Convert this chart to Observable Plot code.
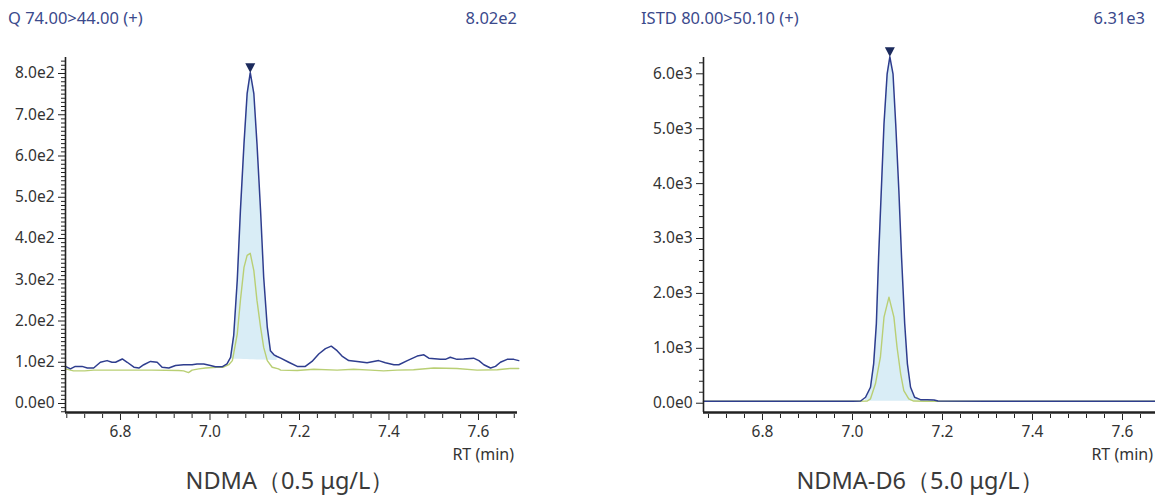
<!DOCTYPE html>
<html><head><meta charset="utf-8">
<script src="https://cdn.jsdelivr.net/npm/d3@7"></script>
<script src="https://cdn.jsdelivr.net/npm/@observablehq/plot@0.6"></script>
<style>
body{margin:0;background:#fff;}
#wrap{position:relative;width:1155px;height:496px;overflow:hidden;font-family:"Noto Sans",sans-serif;}
.hdr{position:absolute;top:6px;font-size:16.5px;color:#3b4a8c;white-space:nowrap;}
.rt{position:absolute;top:443px;font-size:16px;color:#333;white-space:nowrap;}
.ttl{position:absolute;top:464px;font-size:23.5px;color:#3a3a3a;transform:translateX(-50%);white-space:nowrap;}
</style></head>
<body><div id="wrap"></div>
<script>
// ---------- Left panel: NDMA (0.5 µg/L), Q 74.00>44.00 ----------
const ndmaBlueT = [6.677,6.688,6.699,6.714,6.726,6.740,6.755,6.770,6.781,6.789,6.804,6.815,6.830,6.841,6.852,6.867,6.882,6.893,6.908,6.923,6.941,6.960,6.971,6.986,7.001,7.012,7.027,7.038,7.046,7.053,7.061,7.068,7.076,7.083,7.090,7.098,7.105,7.113,7.120,7.128,7.135,7.143,7.150,7.158,7.176,7.195,7.213,7.228,7.243,7.258,7.271,7.284,7.295,7.310,7.329,7.351,7.377,7.392,7.411,7.422,7.441,7.463,7.478,7.489,7.515,7.526,7.537,7.552,7.567,7.589,7.601,7.612,7.627,7.638,7.649,7.664,7.679,7.690];
const ndmaBlueY = [90,84,90,90,86,86,100,104,100,100,108,100,88,86,94,102,100,88,86,92,94,94,96,96,92,89,89,96,112,165,300,468,630,751,802,751,630,468,306,185,128,118,114,110,100,90,90,102,120,133,139,128,115,104,102,99,104,99,94,94,104,115,118,110,107,107,112,107,108,110,104,94,86,90,100,107,107,104];
const ndmaGreenT = [6.677,6.695,6.720,6.740,6.800,6.870,6.930,6.941,6.952,6.960,6.975,6.990,7.015,7.030,7.042,7.050,7.061,7.068,7.076,7.083,7.090,7.098,7.105,7.113,7.120,7.128,7.139,7.153,7.158,7.195,7.232,7.284,7.321,7.359,7.388,7.418,7.455,7.500,7.552,7.597,7.642,7.671,7.690];
const ndmaGreenY = [84,79,79,81,81,81,80,79,75,81,84,86,88,88,94,104,169,250,330,359,364,322,250,185,136,104,88,84,81,80,83,81,83,81,79,81,82,86,85,81,82,85,85];
const ndmaFillT = [7.041, 7.153];     // peak integration start / end
const ndmaFillBase = [108, 104];      // baseline heights at start / end
const ndmaPeak = {t: 7.090, y: 802};

// ---------- Right panel: NDMA-D6 (5.0 µg/L), ISTD 80.00>50.10 ----------
const d6BlueT = [6.669,6.800,6.900,7.000,7.018,7.029,7.040,7.047,7.053,7.058,7.064,7.070,7.077,7.083,7.090,7.096,7.103,7.109,7.116,7.122,7.129,7.138,7.151,7.166,7.181,7.190,7.300,7.500,7.673];
const d6BlueY = [38,38,38,38,40,109,291,717,1446,2659,3874,5089,6000,6310,6000,5089,3874,2659,1446,717,291,109,65,65,60,40,38,38,38];
const d6GreenT = [6.669,7.000,7.033,7.040,7.051,7.062,7.070,7.081,7.092,7.099,7.107,7.114,7.125,7.136,7.160,7.673];
const d6GreenY = [35,35,40,80,353,838,1567,1931,1567,1020,535,231,80,40,35,35];
const d6FillT = [7.022, 7.188];
const d6FillBase = [35, 35];
const d6Peak = {t: 7.083, y: 6310};

// ---------- Texts ----------
const headers = [
  {text: "Q 74.00>44.00 (+)", left: 8},
  {text: "8.02e2", right: 638},
  {text: "ISTD 80.00>50.10 (+)", left: 641},
  {text: "6.31e3", right: 10}
];
const rtLabel = "RT (min)";
const titles = ["NDMA（0.5 μg/L）", "NDMA-D6（5.0 μg/L）"];

const BLUE = "#2e3d8e", GREEN = "#b9cf74", FILL = "#d9edf6", MARK = "#1b2a5c", INK = "#222";

const downTriangle = {
  draw(ctx, size) {
    ctx.moveTo(0, 0);
    ctx.lineTo(-5, -9.5);
    ctx.lineTo(5, -9.5);
    ctx.closePath();
  }
};

function expFmt(d) { return d.toExponential(1).replace("e+", "e"); }

function panel(cfg) {
  const blue = cfg.bt.map((t, i) => ({t, y: cfg.by[i]}));
  const green = cfg.gt.map((t, i) => ({t, y: cfg.gy[i]}));
  const [f0, f1] = cfg.fillT, [b0, b1] = cfg.fillBase;
  const fill = blue.filter(d => d.t >= f0 && d.t <= f1)
    .map(d => ({t: d.t, y: d.y, base: b0 + (b1 - b0) * (d.t - f0) / (f1 - f0)}));
  const yMajor = d3.range(0, cfg.yMax + 1, cfg.yStep);
  const yMinor = d3.range(Math.ceil(cfg.yDomain[0] / cfg.yMinorStep) * cfg.yMinorStep, cfg.yDomain[1], cfg.yMinorStep)
    .filter(v => Math.abs(v % cfg.yStep) > 1e-6);
  const xMajor = [6.8, 7.0, 7.2, 7.4, 7.6];
  const xMinor = d3.range(0, 26).map(i => +(6.68 + i * 0.04).toFixed(2))
    .filter(v => v >= cfg.xDomain[0] && v <= cfg.xDomain[1] && !xMajor.some(m => Math.abs(m - v) < 1e-6));
  const svg = Plot.plot({
    width: cfg.width, height: 496,
    marginLeft: cfg.marginLeft, marginRight: cfg.marginRight, marginTop: 57, marginBottom: 84,
    x: {domain: cfg.xDomain, label: null},
    y: {domain: cfg.yDomain, label: null},
    style: {fontFamily: "'Noto Sans', sans-serif", fontSize: "15.5px", color: INK, background: "transparent", overflow: "visible"},
    marks: [
      Plot.areaY(fill, {x: "t", y1: "base", y2: "y", fill: FILL}),
      Plot.line(green, {x: "t", y: "y", stroke: GREEN, strokeWidth: 1.4}),
      Plot.line(blue, {x: "t", y: "y", stroke: BLUE, strokeWidth: 1.5}),
      Plot.dot([cfg.peak], {x: "t", y: "y", symbol: downTriangle, r: 5, fill: MARK, stroke: "none"}),
      Plot.axisY(yMinor, {tickSize: 4, tickFormat: () => "", stroke: INK, label: null}),
      Plot.axisY(yMajor, {tickSize: 7, tickPadding: 4, tickFormat: expFmt, stroke: INK, fill: "#333", label: null}),
      Plot.axisX(xMinor, {tickSize: 4, dy: 2, tickFormat: () => "", stroke: INK, label: null}),
      Plot.axisX(xMajor, {tickSize: 6, dy: 2, tickPadding: 5, tickFormat: d3.format(".1f"), stroke: INK, fill: "#333", label: null}),
      Plot.ruleX([cfg.xDomain[0]], {stroke: INK, strokeWidth: 1.6}),
      Plot.ruleY([cfg.yDomain[0]], {stroke: INK, strokeWidth: 2.6})
    ]
  });
  svg.style.position = "absolute";
  svg.style.top = "0px";
  svg.style.left = cfg.left + "px";
  return svg;
}

const wrap = document.getElementById("wrap");
wrap.appendChild(panel({
  bt: ndmaBlueT, by: ndmaBlueY, gt: ndmaGreenT, gy: ndmaGreenY,
  fillT: ndmaFillT, fillBase: ndmaFillBase, peak: ndmaPeak,
  xDomain: [6.6771, 7.6872], yDomain: [-21.8, 838.8], yMax: 800, yStep: 100, yMinorStep: 10,
  width: 580, marginLeft: 65, marginRight: 63, left: 0
}));
wrap.appendChild(panel({
  bt: d6BlueT, by: d6BlueY, gt: d6GreenT, gy: d6GreenY,
  fillT: d6FillT, fillBase: d6FillBase, peak: d6Peak,
  xDomain: [6.6689, 7.6733], yDomain: [-169, 6297], yMax: 6000, yStep: 1000, yMinorStep: 200,
  width: 575, marginLeft: 123, marginRight: 0, left: 580
}));

for (const h of headers) {
  const d = document.createElement("div");
  d.className = "hdr";
  d.textContent = h.text;
  if (h.left != null) d.style.left = h.left + "px"; else d.style.right = h.right + "px";
  wrap.appendChild(d);
}
[641, 2].forEach(r => {
  const d = document.createElement("div");
  d.className = "rt"; d.textContent = rtLabel; d.style.right = r + "px";
  wrap.appendChild(d);
});
[290, 920].forEach((c, i) => {
  const d = document.createElement("div");
  d.className = "ttl"; d.textContent = titles[i]; d.style.left = c + "px";
  wrap.appendChild(d);
});
</script>
</body></html>
